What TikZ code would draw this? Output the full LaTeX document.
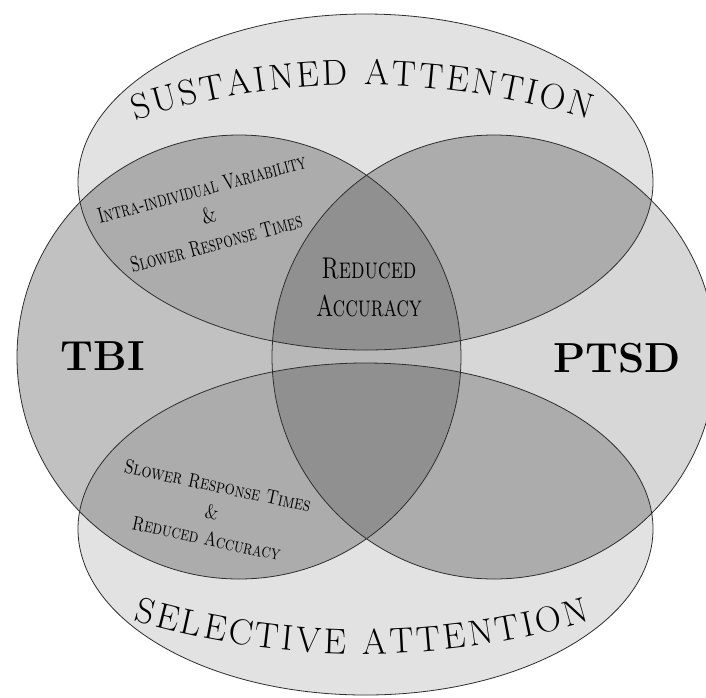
\documentclass[tikz,border=0pt]{standalone}
\usepackage{fontspec}
\usepackage{graphicx}
\usetikzlibrary{decorations.text}
\definecolor{cS}{gray}{0.885}
\definecolor{cT}{gray}{0.755}
\definecolor{cP}{gray}{0.845}
\definecolor{cST}{gray}{0.675}
\definecolor{cTP}{gray}{0.72}
\definecolor{cAll}{gray}{0.565}
\definecolor{cLine}{gray}{0.18}
\newcommand\shpSus{(365.5,182) ellipse [x radius=287.5, y radius=168]}
\newcommand\shpSel{(365.5,529) ellipse [x radius=287.5, y radius=166]}
\newcommand\shpTBI{(239,357) circle [radius=222]}
\newcommand\shpPTSD{(494,357) circle [radius=222]}
\newcommand\fitw[2]{\resizebox{#1pt}{\height}{#2}}
\newcommand\sqz[1]{\scalebox{0.8}[1]{#1}}
\begin{document}
\begin{tikzpicture}[x=1pt,y=-1pt,
  outline/.style={draw=cLine, line width=0.8pt},
  biglabel/.style={font=\fontsize{42}{42}\selectfont\bfseries, inner sep=0pt},
  sclabel/.style={align=center, inner sep=0pt}]
\useasboundingbox (0,0) rectangle (706,697);
\fill[white] (0,0) rectangle (706,697);
% base fills
\fill[cS] \shpSus;
\fill[cS] \shpSel;
\fill[cT] \shpTBI;
\fill[cP] \shpPTSD;
% TBI with attention ellipses
\begin{scope}
  \clip \shpTBI;
  \fill[cST] \shpSus;
  \fill[cST] \shpSel;
\end{scope}
% PTSD with attention ellipses
\begin{scope}
  \clip \shpPTSD;
  \fill[cST] \shpSus;
  \fill[cST] \shpSel;
\end{scope}
% TBI and PTSD
\begin{scope}
  \clip \shpPTSD;
  \clip \shpTBI;
  \fill[cTP] (0,0) rectangle (706,697);
  \fill[cAll] \shpSus;
  \fill[cAll] \shpSel;
\end{scope}
% outlines
\draw[outline] \shpSus;
\draw[outline] \shpSel;
\draw[outline] \shpTBI;
\draw[outline] \shpPTSD;
% arc titles
\path[decorate, decoration={text along path, text align=fit to path,
  text={|\fontsize{36}{36}\selectfont|SUSTAINED ATTENTION}}]
  (135.2,120.1) arc [start angle=-107.6, end angle=-72.4, radius=750];
\path[decorate, decoration={text along path, text align=fit to path,
  text={|\fontsize{36}{36}\selectfont|SELECTIVE ATTENTION}}]
  (133.5,620.7) arc [start angle=106.6, end angle=73.4, radius=800];
% labels
\node[biglabel] (tbi) at (103,356) {TBI};
\node[biglabel] (ptsd) at (617,358) {PTSD};
\node[sclabel, font=\fontsize{30}{38}\selectfont\scshape] (reduced) at (369,287)
  {\fitw{95}{Reduced}\\\fitw{106}{Accuracy}};
\node[sclabel, rotate=15, font=\fontsize{22}{28}\selectfont\scshape] (sustbi) at (209,216)
  {\fitw{215}{Intra-individual Variability}\\\sqz{\&}\\\fitw{177}{Slower Response Times}};
\node[sclabel, rotate=-12, font=\fontsize{20}{27}\selectfont\scshape] (seltbi) at (212,512)
  {\fitw{190}{Slower Response Times}\\\sqz{\&}\\\fitw{151}{Reduced Accuracy}};
\end{tikzpicture}
\end{document}
